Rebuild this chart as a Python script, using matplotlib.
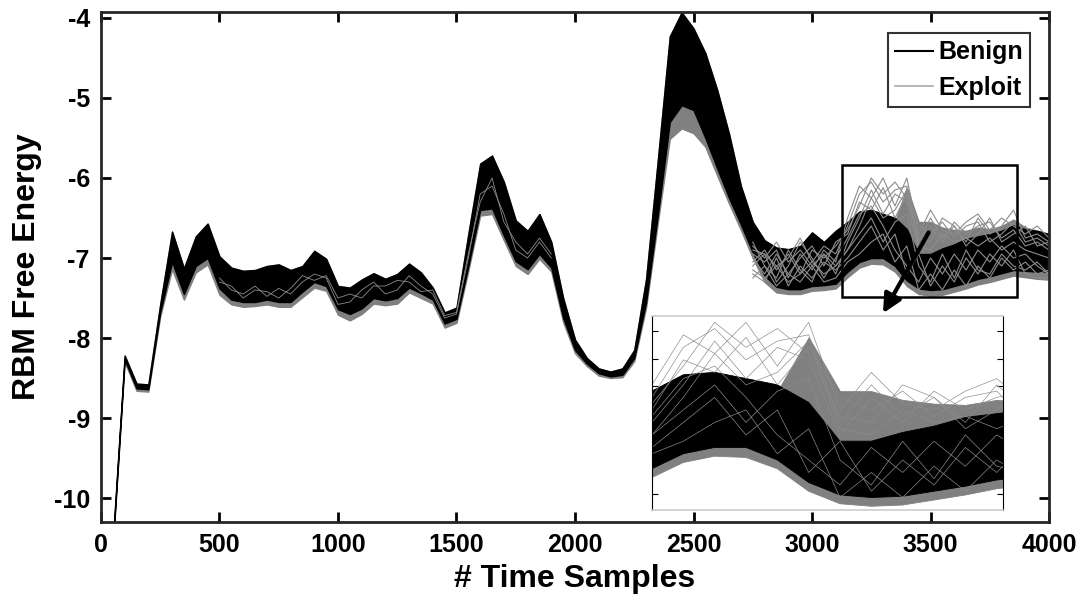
import numpy as np
import matplotlib

matplotlib.use('Agg')
import matplotlib.pyplot as plt
from matplotlib.lines import Line2D
from matplotlib.patches import Rectangle

plt.rcParams['font.family'] = ['Liberation Sans', 'DejaVu Sans']
plt.rcParams['font.weight'] = 'bold'
plt.rcParams['axes.unicode_minus'] = False

# ----- data ------------------------------------------------------------------
t = np.array([50, 100, 150, 200, 250, 300, 350, 400, 450, 500,
              550, 600, 650, 700, 750, 800, 850, 900, 950, 1000,
              1050, 1100, 1150, 1200, 1250, 1300, 1350, 1400, 1450, 1500,
              1550, 1600, 1650, 1700, 1750, 1800, 1850, 1900, 1950, 2000,
              2050, 2100, 2150, 2200, 2250, 2300, 2350, 2400, 2450, 2500,
              2550, 2600, 2650, 2700, 2750, 2800, 2850, 2900, 2950, 3000,
              3050, 3100, 3150, 3200, 3250, 3300, 3350, 3400, 3450, 3500,
              3550, 3600, 3650, 3700, 3750, 3800, 3850, 3900, 3950, 4000])

# top / bottom of the benign (black) bundle
benign_hi = np.array([-10.55, -8.22, -8.57, -8.58, -7.58, -6.67, -7.13, -6.73, -6.57, -6.98,
                      -7.12, -7.16, -7.15, -7.10, -7.08, -7.15, -7.10, -6.91, -7.01, -7.35,
                      -7.37, -7.27, -7.19, -7.26, -7.20, -7.07, -7.18, -7.37, -7.68, -7.62,
                      -6.70, -5.82, -5.72, -6.05, -6.53, -6.66, -6.45, -6.80, -7.50, -8.02,
                      -8.25, -8.38, -8.42, -8.38, -8.15, -7.26, -5.76, -4.23, -3.93, -4.13,
                      -4.44, -4.90, -5.45, -6.10, -6.55, -6.78, -6.87, -6.89, -6.85, -6.68,
                      -6.80, -6.66, -6.55, -6.42, -6.40, -6.45, -6.50, -6.64, -6.95, -6.95,
                      -6.88, -6.83, -6.76, -6.73, -6.70, -6.66, -6.59, -6.64, -6.66, -6.70])
benign_lo = np.array([-10.60, -8.27, -8.63, -8.64, -7.68, -7.05, -7.45, -7.10, -7.00, -7.38,
                      -7.52, -7.55, -7.55, -7.52, -7.55, -7.55, -7.42, -7.30, -7.35, -7.64,
                      -7.70, -7.63, -7.50, -7.53, -7.50, -7.37, -7.44, -7.52, -7.82, -7.76,
                      -7.10, -6.40, -6.38, -6.72, -7.04, -7.14, -6.95, -7.12, -7.75, -8.15,
                      -8.32, -8.44, -8.48, -8.46, -8.25, -7.55, -6.45, -5.30, -5.09, -5.15,
                      -5.50, -5.88, -6.25, -6.58, -6.93, -7.22, -7.36, -7.39, -7.39, -7.35,
                      -7.34, -7.32, -7.17, -7.05, -7.00, -7.00, -7.10, -7.28, -7.38, -7.40,
                      -7.39, -7.35, -7.31, -7.26, -7.23, -7.19, -7.15, -7.16, -7.17, -7.17])
# bottom of the exploit (grey) bundle
exploit_lo = np.array([-10.63, -8.30, -8.66, -8.67, -7.73, -7.14, -7.52, -7.18, -7.08, -7.46,
                       -7.58, -7.61, -7.60, -7.58, -7.61, -7.61, -7.49, -7.37, -7.41, -7.71,
                       -7.78, -7.70, -7.57, -7.59, -7.57, -7.43, -7.50, -7.57, -7.87, -7.81,
                       -7.16, -6.47, -6.45, -6.78, -7.10, -7.20, -7.01, -7.17, -7.80, -8.19,
                       -8.35, -8.47, -8.50, -8.49, -8.29, -7.62, -6.55, -5.51, -5.38, -5.44,
                       -5.61, -5.97, -6.32, -6.65, -7.00, -7.30, -7.43, -7.45, -7.45, -7.41,
                       -7.40, -7.38, -7.24, -7.12, -7.07, -7.08, -7.17, -7.35, -7.45, -7.47,
                       -7.46, -7.42, -7.38, -7.33, -7.30, -7.26, -7.22, -7.24, -7.26, -7.27])
# dense grey cloud rising above the benign bundle late in the trace
t_cloud = np.array([3350, 3400, 3450, 3500, 3550, 3600, 3650, 3700, 3750, 3800, 3850, 3900, 3950])
exploit_cloud_hi = np.array([-6.55, -6.12, -6.55, -6.55, -6.62, -6.65, -6.66,
                             -6.62, -6.64, -6.60, -6.52, -6.62, -6.66])

# individual exploit traces (grey spikes) late in the trace
t_spike = np.array([2750, 2800, 2850, 2900, 2950, 3000, 3050, 3100, 3150, 3200,
                    3250, 3300, 3350, 3400, 3450, 3500, 3550, 3600, 3650, 3700,
                    3750, 3800, 3850, 3900, 3950, 4000])
exploit_1 = [-6.90, -6.95, -7.10, -7.00, -6.75, -7.05, -6.85, -6.95, -6.60, -6.20,
             -6.05, -6.30, -6.15, -6.10, -6.80, -6.50, -6.75, -6.60, -6.80, -6.50,
             -6.70, -6.60, -6.40, -6.75, -6.70, -6.80]
exploit_2 = [-7.00, -7.20, -6.95, -7.20, -7.00, -6.85, -7.10, -6.80, -6.70, -6.30,
             -6.40, -6.12, -6.50, -6.20, -6.60, -6.70, -6.55, -6.75, -6.60, -6.55,
             -6.80, -6.70, -6.55, -6.80, -6.75, -6.85]
exploit_3 = [-6.80, -7.10, -7.25, -6.90, -7.15, -7.30, -6.95, -7.20, -6.80, -6.50,
             -6.15, -6.45, -6.20, -6.30, -6.90, -6.60, -6.80, -6.55, -6.70, -6.60,
             -6.55, -6.75, -6.65, -6.85, -6.80, -6.90]
exploit_4 = [-7.10, -6.95, -7.30, -7.10, -6.80, -7.00, -7.25, -7.00, -6.75, -6.45,
             -6.35, -6.60, -6.90, -7.10, -7.30, -7.00, -7.20, -6.95, -7.15, -6.90,
             -7.05, -6.85, -7.00, -6.95, -7.10, -7.20]
exploit_5 = [-7.20, -7.30, -7.00, -7.35, -7.10, -7.25, -7.05, -7.15, -7.00, -6.80,
             -6.60, -6.90, -6.70, -7.20, -6.95, -7.35, -7.10, -7.30, -7.00, -7.20,
             -6.95, -7.10, -6.90, -7.20, -7.25, -7.25]
exploit_6 = [-6.95, -7.05, -6.90, -7.25, -6.95, -7.15, -6.90, -7.05, -6.50, -6.10,
             -6.25, -6.00, -6.35, -6.00, -6.70, -6.40, -6.65, -6.70, -6.55, -6.45,
             -6.65, -6.50, -6.60, -6.70, -6.60, -6.75]
exploit_7 = [-7.05, -6.90, -7.15, -6.95, -7.20, -6.90, -7.00, -6.85, -6.65, -6.35,
             -6.00, -6.20, -6.05, -6.25, -6.75, -6.80, -6.50, -6.60, -6.85, -6.70,
             -6.50, -6.80, -6.70, -6.60, -6.85, -6.80]
exploit_8 = [-7.25, -7.10, -7.35, -7.20, -7.30, -7.10, -7.30, -7.25, -7.05, -6.95,
             -6.80, -6.70, -7.05, -6.85, -7.40, -7.20, -7.40, -7.15, -7.35, -7.10,
             -7.25, -7.00, -7.15, -7.05, -7.20, -7.15]
exploit_9 = [-6.85, -7.00, -6.80, -7.05, -6.90, -7.10, -6.95, -7.10, -6.90, -6.60,
             -6.25, -6.50, -6.40, -6.15, -6.85, -6.90, -6.70, -6.80, -6.75, -6.85,
             -6.75, -6.90, -6.80, -6.90, -6.95, -7.00]
exploit_10 = [-7.15, -7.25, -7.10, -7.30, -7.20, -7.05, -7.20, -7.10, -6.90, -6.70,
              -6.50, -6.80, -6.55, -6.45, -7.10, -7.30, -6.95, -7.25, -6.90, -7.15,
              -7.20, -6.95, -7.10, -7.15, -7.05, -7.20]
spikes = [exploit_1, exploit_2, exploit_3, exploit_4, exploit_5,
          exploit_6, exploit_7, exploit_8, exploit_9, exploit_10]

# a couple of exploit traces showing through the black bundle early on
t_early = np.array([500, 550, 600, 650, 700, 750, 800, 850, 900, 950,
                    1000, 1050, 1100, 1150, 1200, 1250, 1300, 1350, 1400, 1450,
                    1500, 1550, 1600, 1650, 1700, 1750, 1800, 1850, 1900])
early_1 = [-7.25, -7.40, -7.45, -7.35, -7.48, -7.38, -7.45, -7.30, -7.20, -7.25,
           -7.58, -7.55, -7.40, -7.30, -7.45, -7.40, -7.22, -7.35, -7.45, -7.75,
           -7.70, -7.00, -6.20, -6.10, -6.45, -6.90, -7.00, -6.80, -7.00]
early_2 = [-7.30, -7.35, -7.50, -7.40, -7.42, -7.50, -7.38, -7.22, -7.28, -7.22,
           -7.50, -7.45, -7.50, -7.35, -7.35, -7.28, -7.30, -7.42, -7.40, -7.72,
           -7.68, -6.95, -6.30, -6.00, -6.55, -6.80, -6.95, -6.75, -6.95]

GREY = '#808080'
GREY_LINE = '#8c8c8c'


def draw(ax, lw):
    """Grey exploit bundle underneath, black benign bundle on top, then traces."""
    ax.fill_between(t, exploit_lo, benign_hi, color=GREY, lw=lw, ec=GREY)
    m = np.isin(t, t_cloud)
    ax.fill_between(t_cloud, benign_lo[m], exploit_cloud_hi, color=GREY, lw=lw, ec=GREY)
    ax.fill_between(t, benign_lo, benign_hi, color='k', lw=lw, ec='k')
    for s in (early_1, early_2):
        ax.plot(t_early, s, color=GREY_LINE, lw=lw * 0.6)
    for s in spikes:
        ax.plot(t_spike, s, color=GREY_LINE, lw=lw * 0.8)


fig = plt.figure(figsize=(10.89, 6.15), dpi=100)
ax = fig.add_axes([0.0927, 0.1512, 0.8706, 0.8293])
draw(ax, 1.0)
ax.set_xlim(0, 4000)
ax.set_ylim(-10.3, -3.925)
ax.set_xticks([0, 500, 1000, 1500, 2000, 2500, 3000, 3500, 4000])
ax.set_yticks([-10, -9, -8, -7, -6, -5, -4])
ax.tick_params(direction='in', length=7, width=2, top=True, right=True,
               labelsize=18, pad=8)
for sp in ax.spines.values():
    sp.set_linewidth(2)
    sp.set_color('#262626')
ax.set_xlabel('# Time Samples', fontsize=23, fontweight='bold', labelpad=5)
ax.set_ylabel('RBM Free Energy', fontsize=23, fontweight='bold', labelpad=8)

# zoom rectangle + arrow
ax.add_patch(Rectangle((3125, -7.49), 741, 1.65, fill=False, ec='k', lw=1.8, zorder=5))
ax.annotate('', xy=(3294, -7.72), xytext=(3498, -6.65),
            arrowprops=dict(arrowstyle='-|>', lw=3, color='k', mutation_scale=28),
            zorder=6)

handles = [Line2D([], [], color='k', lw=1.5), Line2D([], [], color='#a8a8a8', lw=1.2)]
leg = ax.legend(handles, ['Benign', 'Exploit'], loc='upper right',
                bbox_to_anchor=(0.980, 0.959), borderaxespad=0, fontsize=18,
                handlelength=1.5, handletextpad=0.2, labelspacing=0.45,
                borderpad=0.3, fancybox=False, framealpha=1)
leg.get_frame().set_edgecolor('#333333')
leg.get_frame().set_linewidth(1.5)
for txt in leg.get_texts():
    txt.set_fontweight('bold')

# inset
axin = fig.add_axes([0.5987, 0.1707, 0.3223, 0.3154])
draw(axin, 0.6)
axin.set_xlim(3150, 3710)
axin.set_ylim(-7.5, -5.95)
axin.set_xticks([])
axin.set_yticks([-7.37, -6.51, -6.29, -6.07])
axin.tick_params(direction='in', length=4, width=0.8, left=True, right=True,
                 labelleft=False)
for side in ('left', 'right'):
    axin.spines[side].set_color('k')
    axin.spines[side].set_linewidth(0.8)
for side in ('top', 'bottom'):
    axin.spines[side].set_color('#cccccc')
    axin.spines[side].set_linewidth(1.2)

fig.savefig('out.png', dpi=100)
